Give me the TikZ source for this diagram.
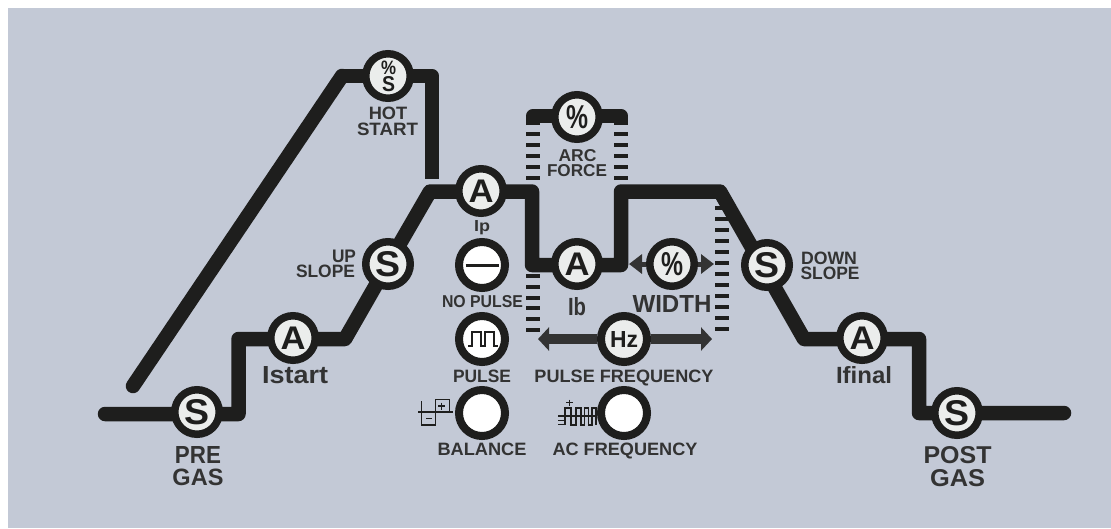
\documentclass[tikz,border=0pt]{standalone}
\usepackage{graphicx}
\usepackage{fontspec}
\setmainfont{Liberation Sans}
\usetikzlibrary{backgrounds,arrows.meta,calc}
\definecolor{panel}{HTML}{C3C9D6}
\definecolor{ink}{HTML}{1E1E1D}
\definecolor{lab}{HTML}{333333}
\definecolor{dial}{HTML}{EBEDEC}
\newcommand{\fitbox}[3]{\resizebox{#1pt}{#2pt}{#3}}
\newcommand{\lab}[6]{\node[labeltext] (#1) at (#2,#3) {\fitbox{#4}{#5}{\bfseries #6}};}
\tikzset{
  knob/.style={circle,draw=ink,line width=7.5pt,fill=dial,minimum size=44.5pt,inner sep=0pt,text=ink},
  bigknob/.style={knob,line width=8pt,minimum size=46pt},
  blankknob/.style={bigknob,fill=white},
  labeltext/.style={anchor=base,inner sep=0pt,text=lab},
  proc/.style={draw=ink,line width=14.5pt,line join=round},
  rung/.style={draw=ink,line width=4.5pt},
  hzarrow/.style={draw=lab,line width=10pt,-{Triangle[length=11pt,width=23pt]}},
  widarrow/.style={draw=lab,line width=5pt,-{Triangle[length=13pt,width=19pt]}},
  icon/.style={draw=ink,line width=1.5pt}
}
\begin{document}
\begin{tikzpicture}[x=1pt,y=-1pt]
\useasboundingbox (0,0) rectangle (1111,528);
% knobs
\node[knob] (pre) at (197,412) {\fitbox{25}{25}{\bfseries S}};
\node[knob] (ist) at (293,338) {\fitbox{25}{22.5}{\bfseries A}};
\node[knob] (ups) at (388,264) {\fitbox{25}{25}{\bfseries S}};
\node[knob] (hs) at (388,76) {};
\node[knob] (ip) at (481,191) {\fitbox{25}{22.5}{\bfseries A}};
\node[knob] (af) at (577,117) {\fitbox{22}{23}{\bfseries \%}};
\node[knob] (ib) at (577,264) {\fitbox{25}{22.5}{\bfseries A}};
\node[knob] (wid) at (672,264) {\fitbox{22}{23}{\bfseries \%}};
\node[knob] (dns) at (767,265) {\fitbox{25}{25}{\bfseries S}};
\node[knob] (ifn) at (862,338) {\fitbox{25}{22.5}{\bfseries A}};
\node[knob] (pst) at (957,413) {\fitbox{25}{25}{\bfseries S}};
\node[blankknob] (np) at (482,265) {};
\node[blankknob] (pu) at (482,339) {};
\node[bigknob] (hz) at (624,339) {\fitbox{28}{16}{\bfseries Hz}};
\node[blankknob] (bal) at (482,413) {};
\node[blankknob] (acf) at (624,413) {};
% hot start glyphs
\node[inner sep=0pt,text=ink] (hsp) at (388.5,68) {\fitbox{15}{13.5}{\bfseries \%}};
\node[inner sep=0pt,text=ink] (hss) at (388.5,84.5) {\fitbox{13}{15}{\bfseries S}};
% labels
\lab{lhot}{388}{119}{38.5}{12.5}{HOT}
\lab{lstart}{387.5}{135}{61}{12.5}{START}
\lab{lup}{344}{262}{24}{12.5}{UP}
\lab{lslope}{325.5}{277}{59}{12.5}{SLOPE}
\lab{larc}{577.5}{161}{38}{12}{ARC}
\lab{lforce}{577}{176}{60}{12}{FORCE}
\lab{lip}{482}{231}{16}{11}{Ip}
\lab{lnop}{482.5}{307}{81}{12}{NO PULSE}
\lab{lib}{577}{315}{18}{18}{Ib}
\lab{lwid}{672}{312}{79}{17}{WIDTH}
\lab{lpul}{482}{382}{58}{12.5}{PULSE}
\lab{lpf}{624}{382}{179}{12.5}{PULSE FREQUENCY}
\lab{lbal}{482}{455}{89}{12.5}{BALANCE}
\lab{lacf}{625}{455}{145}{12.5}{AC FREQUENCY}
\lab{lpre}{198}{463}{46}{17}{PRE}
\lab{lgas}{198}{485}{51}{16.5}{GAS}
\lab{list}{295}{383}{66}{17}{Istart}
\lab{lifn}{864}{383}{56}{17}{Ifinal}
\lab{lpost}{957.5}{463}{68}{17}{POST}
\lab{lgas2}{957.5}{486}{55}{17}{GAS}
\lab{ldown}{829}{264}{56}{12.5}{DOWN}
\lab{lslope2}{830}{279}{59}{12.5}{SLOPE}
% glyph drawings on knobs
\draw[ink,line width=3pt] ([xshift=-16.5pt]np.center) -- ([xshift=16.5pt]np.center);
\draw[icon,line width=2pt,line join=miter] (468,346) -- (472,346) -- (472,332) -- (481,332) -- (481,346) -- (485,346) -- (485,332) -- (494,332) -- (494,346) -- (498,346);
% balance icon
\draw[icon] (418,412) -- (452.7,412);
\draw[icon] (421.7,401) -- (421.7,425) -- (435.7,425) -- (435.7,399.3) -- (449.3,399.3) -- (449.3,412);
\draw[icon] (438,406) -- (445.4,406) (441.7,402.5) -- (441.7,409.5);
\draw[icon] (426,418.5) -- (432,418.5);
% AC frequency icon
\draw[icon] (566,402.7) -- (572.6,402.7) (569.3,399.5) -- (569.3,406);
\draw[icon] (558,416) -- (596,416);
\draw[icon] (558,420.3) -- (565,420.3) (558,424.7) -- (565,424.7);
\draw[icon] (565,425) -- (565,408) -- (571,408) -- (571,425) -- (576,425) -- (576,408) -- (581,408) -- (581,425) -- (584.7,425) -- (584.7,408) -- (588.7,408) -- (588.7,425) -- (592,425) -- (592,408) -- (596,408) -- (596,425);
\begin{scope}[on background layer]
  \fill[white] (0,0) rectangle (1111,528);
  \fill[panel] (8,8) rectangle (1111,528);
  % dashed rungs
  \foreach \yy in {134,145,156,167,178}{
    \draw[rung] (526,\yy) -- (540,\yy);
    \draw[rung] (614,\yy) -- (628,\yy);
  }
  \foreach \yy in {276,287,298,308,319,330}{
    \draw[rung] (526,\yy) -- (540,\yy);
  }
  \foreach \yy in {208,219,230,241,252,263,274,285,296,307,318,329}{
    \draw[rung] (715,\yy) -- (729,\yy);
  }
  % coordinates
  \coordinate (s0) at (105,414);
  \coordinate (c1) at (238.5,414);
  \coordinate (c2) at (238.5,339);
  \coordinate (c3) at (345,339);
  \coordinate (c4) at (430,191.5);
  \coordinate (c5) at (532,191.5);
  \coordinate (c6) at (532,265);
  \coordinate (c7) at (621,265);
  \coordinate (c8) at (621,191.5);
  \coordinate (c9) at (720,191.5);
  \coordinate (c10) at (804,339);
  \coordinate (c11) at (919,339);
  \coordinate (c12) at (919,413);
  \coordinate (e0) at (1064,413);
  \coordinate (h0) at (133,386);
  \coordinate (h1) at (342,76);
  \coordinate (h2) at (432,76);
  \coordinate (h3) at (432,179);
  \coordinate (a0) at (533,125);
  \coordinate (a1) at (533,116);
  \coordinate (a2) at (621,116);
  \coordinate (a3) at (621,125);
  \coordinate (hzl) at (538,339);
  \coordinate (hzr) at (712,339);
  \coordinate (wl) at (629,264);
  \coordinate (wr) at (714,264);
  % process line
  \draw[proc,line cap=round] (s0) -- (c1 -| pre) -- (c1) -- (c2) -- (c2 -| ist) -- (c3) -- (ups.center) -- (c4) -- (c4 -| ip) -- (c5) -- (c6) -- (c6 -| ib) -- (c7) -- (c8) -- (c9) -- (c10) -- (c10 -| ifn) -- (c11) -- (c12) -- (c12 -| pst) -- (e0);
  % hot start branch
  \draw[proc,line cap=round] (h0) -- (h1);
  \draw[proc] (h1) -- (h2 -| hs) -- (h2) -- (h3);
  % arc force bracket
  \draw[proc] (a0) -- (a1) -- (a1 -| af) -- (a2) -- (a3);
  % arrows
  \draw[hzarrow] (hz) -- (hzl);
  \draw[hzarrow] (hz) -- (hzr);
  \draw[widarrow] (wid) -- (wl);
  \draw[widarrow] (wid) -- (wr);
\end{scope}
\end{tikzpicture}
\end{document}
